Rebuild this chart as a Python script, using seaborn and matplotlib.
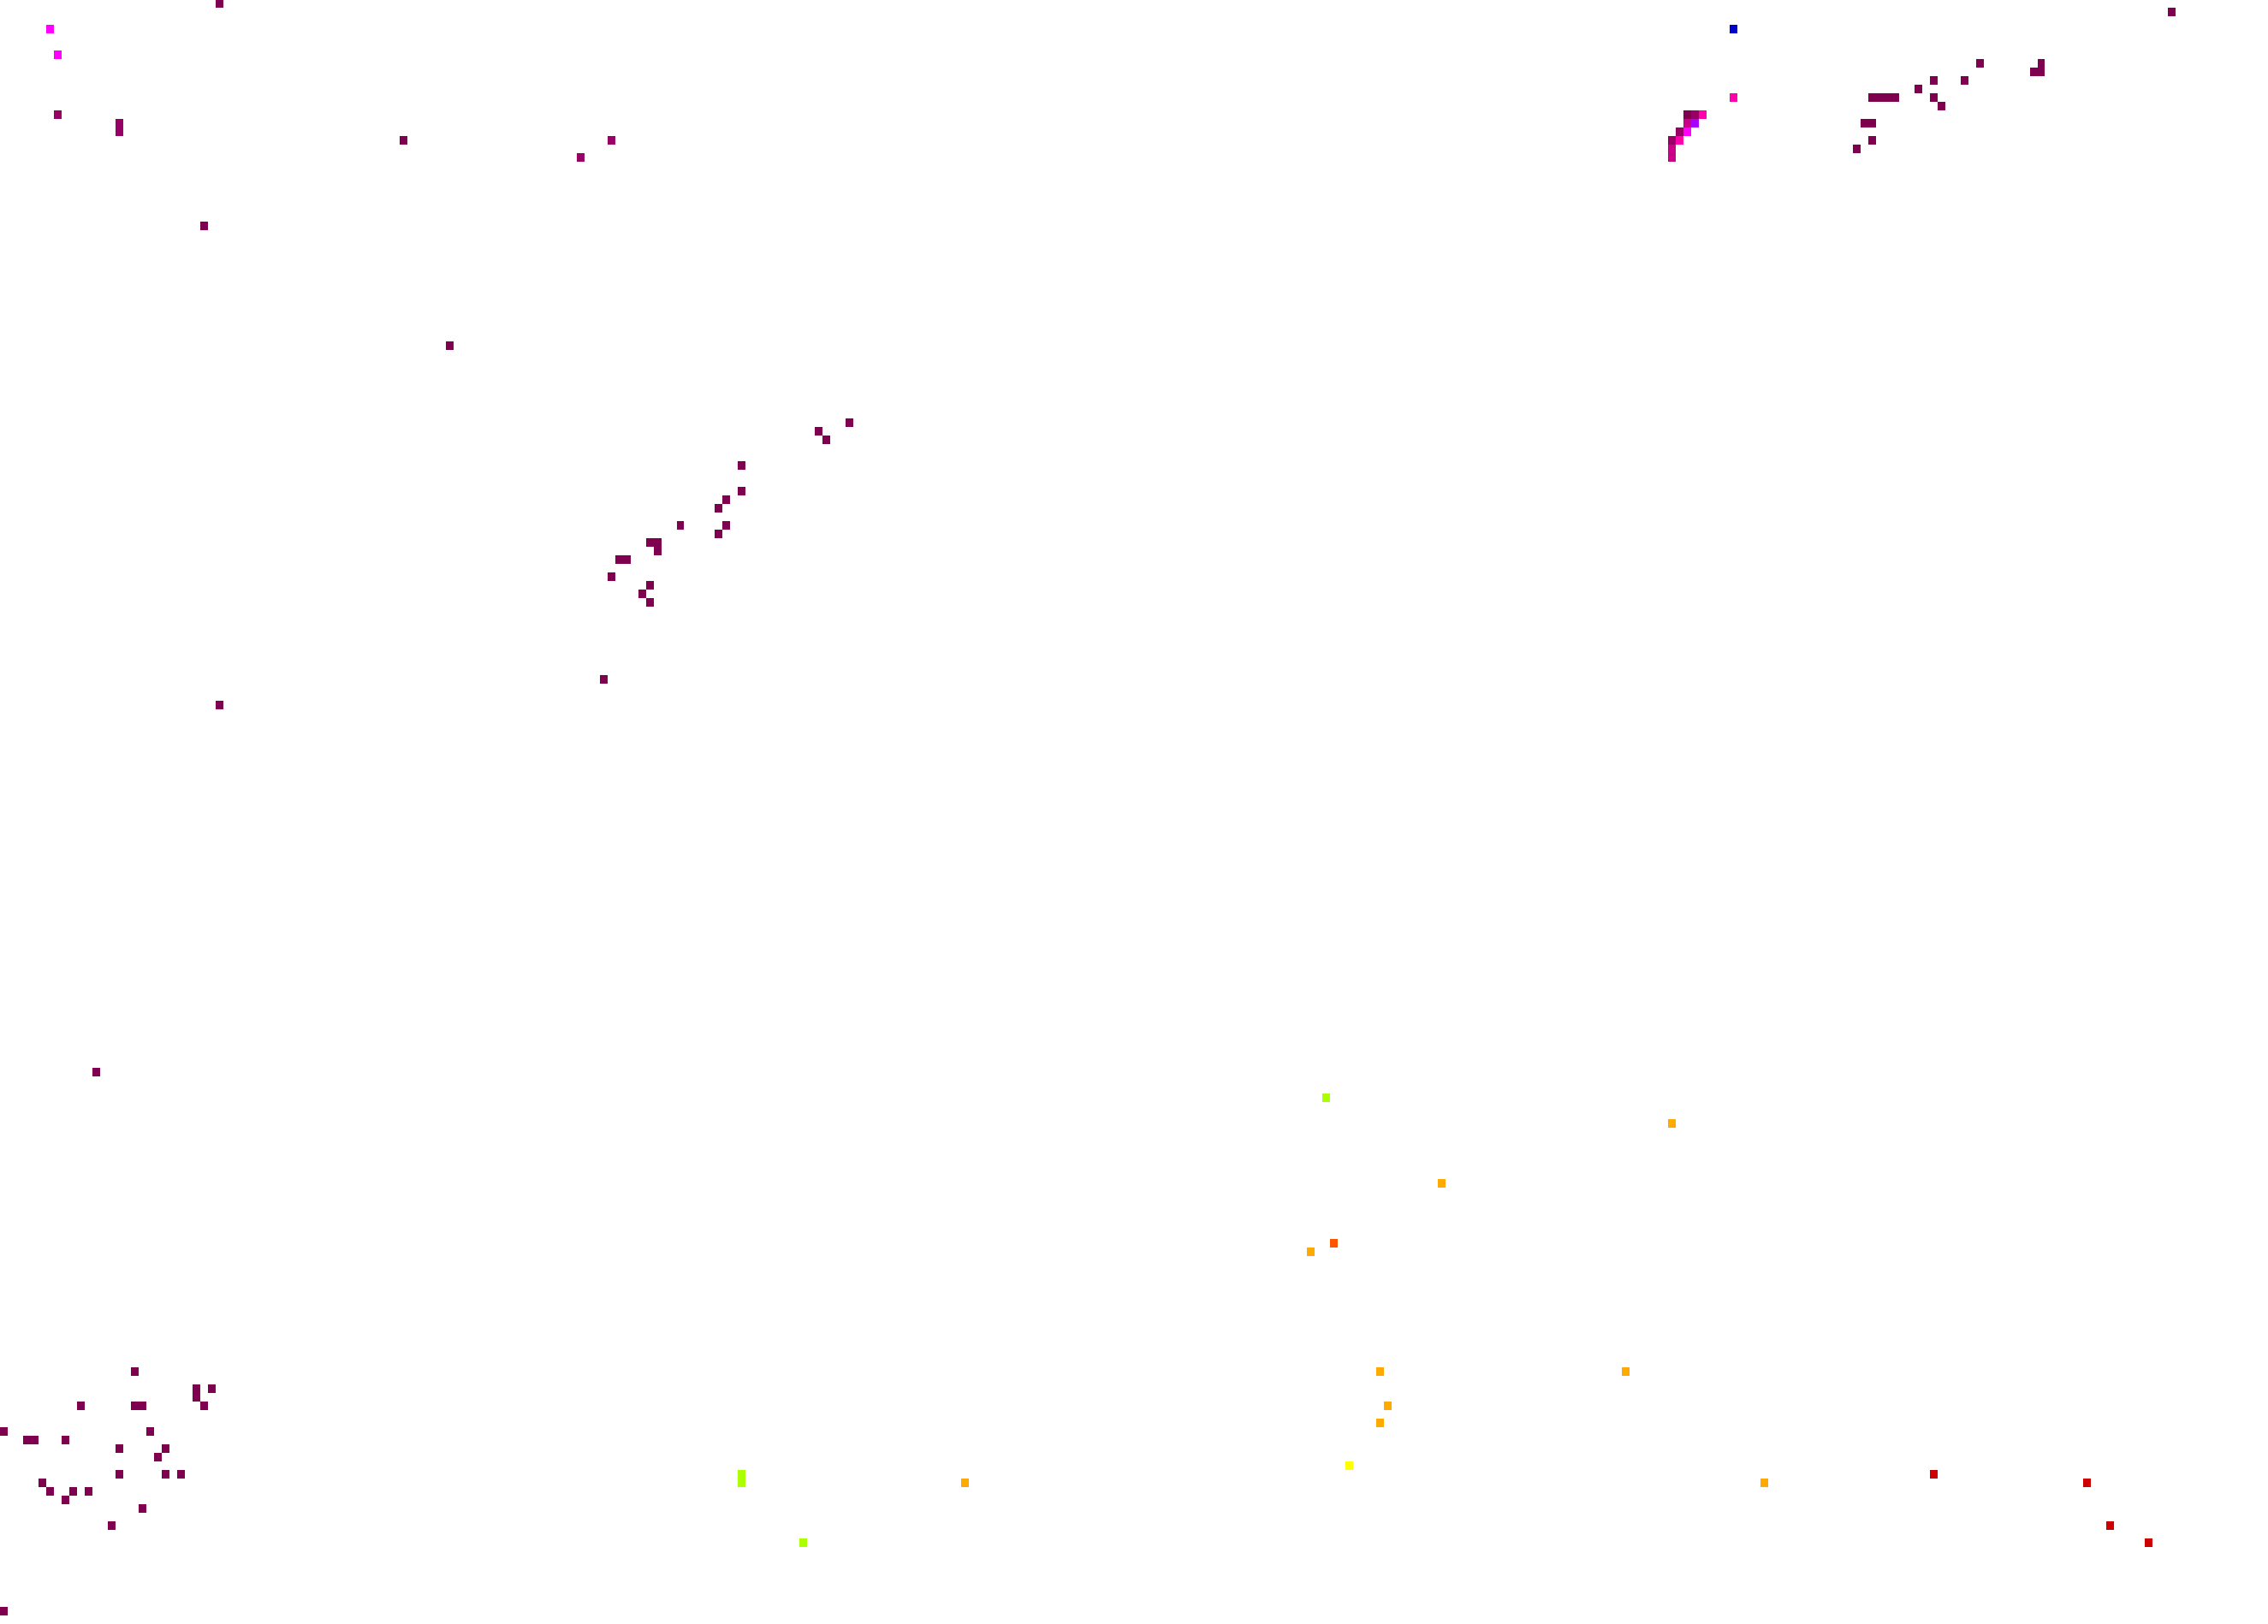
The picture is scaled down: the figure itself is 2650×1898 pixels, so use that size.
import numpy as np
import matplotlib
matplotlib.use("Agg")
import matplotlib.pyplot as plt
import seaborn as sns
from matplotlib.colors import ListedColormap

# tamaño de la rejilla (filas, columnas)
N_FILAS = 190
N_COLUMNAS = 295

# colores de cada clase, en orden
clases_colores = ["#800050", "#990066", "#cc0088", "#ff00aa", "#ff00ff", "#aa00ff",
                  "#0000cc", "#aaff00", "#ffff00", "#ffaa00", "#ff5500", "#cc0000"]

# celdas (fila, columna) por clase
clase_0 = [(0, 28), (16, 52), (26, 26), (40, 58),
           (49, 110), (50, 106), (51, 107), (54, 96), (57, 96), (58, 94), (59, 93),
           (61, 88), (61, 94), (62, 93), (63, 84), (63, 85), (64, 85), (65, 80), (65, 81),
           (67, 79), (68, 84), (69, 83), (70, 84),
           (79, 78), (82, 28), (125, 12),
           (160, 17), (162, 25), (163, 25), (162, 27), (164, 26), (164, 10), (164, 17), (164, 18),
           (167, 0), (168, 3), (168, 4), (168, 8), (167, 19), (169, 15), (169, 21), (170, 20),
           (172, 15), (172, 21), (172, 23), (173, 5), (174, 6), (174, 9), (174, 11), (175, 8),
           (176, 18), (178, 14), (188, 0),
           (13, 219),
           (11, 243), (11, 244), (11, 245), (11, 246), (14, 242), (14, 243), (17, 241), (16, 243),
           (10, 249), (9, 251), (11, 251), (12, 252), (9, 255), (7, 257),
           (8, 264), (8, 265), (7, 265), (1, 282)]
clase_1 = [(13, 7), (14, 15), (15, 15), (16, 79), (18, 75),
           (13, 220), (15, 218), (16, 217)]
clase_2 = [(14, 219), (17, 217), (18, 217)]
clase_3 = [(11, 225), (13, 221), (16, 218)]
clase_4 = [(3, 6), (6, 7), (15, 219)]
clase_5 = [(14, 220)]
clase_6 = [(3, 225)]
clase_7 = [(172, 96), (173, 96), (180, 104), (128, 172)]
clase_8 = [(171, 175)]
clase_9 = [(173, 125), (131, 217), (138, 187), (146, 170), (160, 179), (160, 211),
           (164, 180), (166, 179), (173, 229)]
clase_10 = [(145, 173)]
clase_11 = [(172, 251), (173, 271), (178, 274), (180, 279)]

celdas_por_clase = [clase_0, clase_1, clase_2, clase_3, clase_4, clase_5,
                    clase_6, clase_7, clase_8, clase_9, clase_10, clase_11]

matriz = np.full((N_FILAS, N_COLUMNAS), np.nan)
for valor, celdas in enumerate(celdas_por_clase):
    for fila, col in celdas:
        matriz[fila, col] = valor

fig = plt.figure(figsize=(26.5, 18.99), dpi=100)
ax = fig.add_axes([0, 0, 1, 1])

sns.heatmap(matriz, cmap=ListedColormap(clases_colores), vmin=-0.5,
            vmax=len(clases_colores) - 0.5, cbar=False,
            xticklabels=False, yticklabels=False, ax=ax)
ax.set_facecolor("white")
ax.axis("off")

fig.savefig("out.png", dpi=100, facecolor="white")
